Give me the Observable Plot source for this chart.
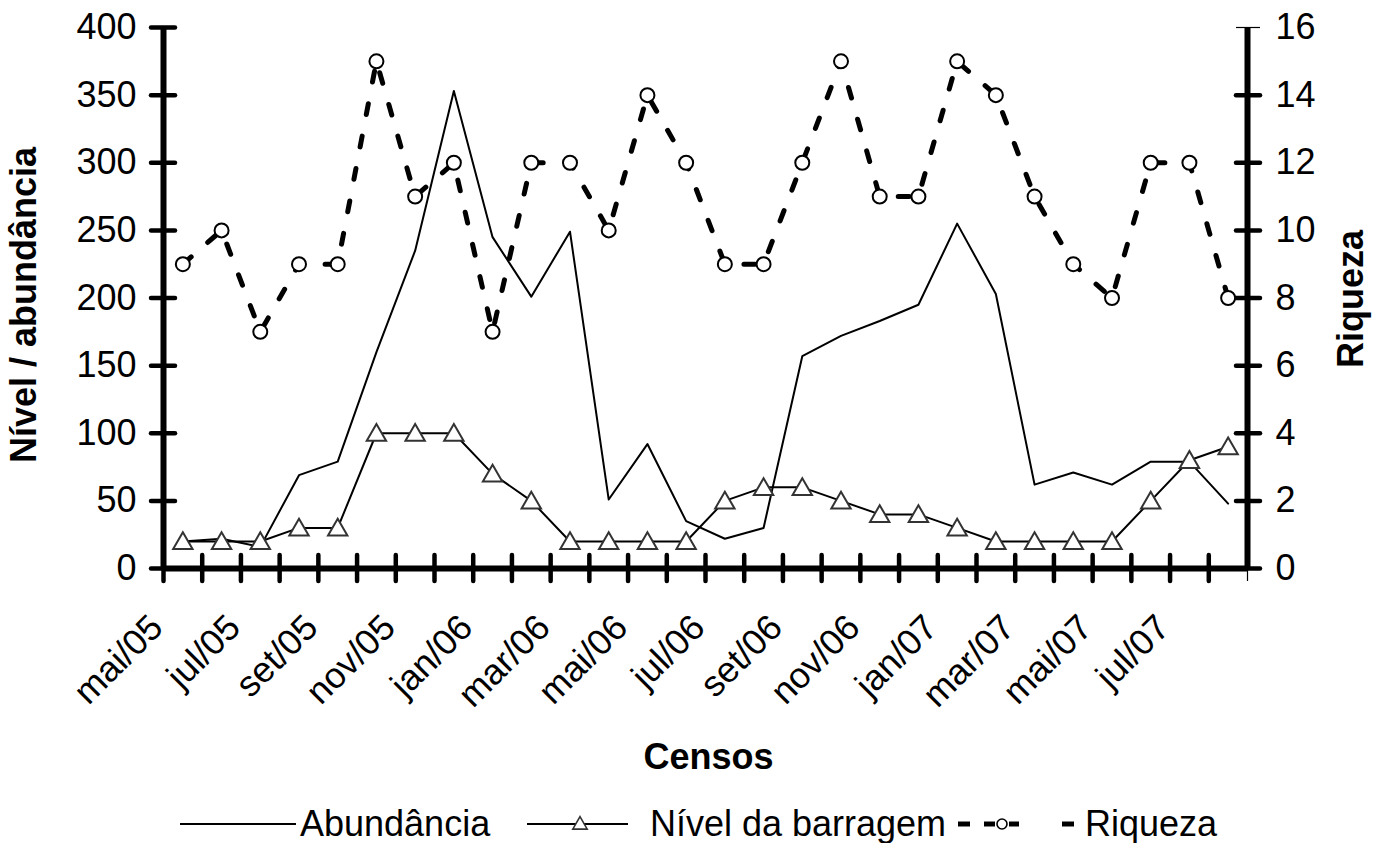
<!DOCTYPE html>
<html>
<head>
<meta charset="utf-8">
<script src="https://cdn.jsdelivr.net/npm/d3@7"></script>
<script src="https://cdn.jsdelivr.net/npm/@observablehq/plot@0.6"></script>
<style>
html, body { margin: 0; padding: 0; background: #fff; }
#chart svg, #legend svg { display: block; }
</style>
</head>
<body>
<div id="chart"></div>
<div id="legend"></div>
<script>
// ---- data ----
const months = ["mai/05","jun/05","jul/05","ago/05","set/05","out/05","nov/05","dez/05",
  "jan/06","fev/06","mar/06","abr/06","mai/06","jun/06","jul/06","ago/06","set/06","out/06",
  "nov/06","dez/06","jan/07","fev/07","mar/07","abr/07","mai/07","jun/07","jul/07","ago/07"];
const abundancia = [20,22,16,69,79,160,235,353,245,201,249,51,92,35,22,30,157,172,183,195,255,203,62,71,62,79,79,48];
const nivel = [20,20,20,30,30,100,100,100,70,50,20,20,20,20,50,60,60,50,40,40,30,20,20,20,20,50,80,90];
const riqueza = [9,10,7,9,9,15,11,12,7,12,12,10,14,12,9,9,12,15,11,11,15,14,11,9,8,12,12,8];
const leftTicks = [0,50,100,150,200,250,300,350,400];
const rightTicks = [0,2,4,6,8,10,12,14,16];
const xLabelIdx = [0,2,4,6,8,10,12,14,16,18,20,22,24,26];
const seriesNames = ["Abundância","Nível da barragem","Riqueza"];
const yTitle = "Nível / abundância", y2Title = "Riqueza", xTitle = "Censos";

const leftMax = 400, rightMax = 16;
const k = leftMax / rightMax; // right axis -> left scale
const data = months.map((m, i) => ({i, m, abund: abundancia[i], nivel: nivel[i], riq: riqueza[i]}));
const boundaries = d3.range(-0.5, months.length, 1);

const FONT = "'Liberation Sans', Arial, Helvetica, sans-serif";

const chart = Plot.plot({
  width: 1384,
  height: 800,
  marginLeft: 163,
  marginRight: 137,
  marginTop: 27,
  marginBottom: 232,
  style: {fontFamily: FONT, fontSize: "36px", background: "#fff", color: "#000", overflow: "visible"},
  x: {domain: [-0.5, months.length - 0.5]},
  y: {domain: [0, leftMax]},
  marks: [
    // category boundary ticks on x axis (crossing)
    Plot.axisX(boundaries.slice(0, -1), {tickSize: 26, dy: -13, fill: "none", stroke: "#000", strokeWidth: 4.5, strokeLinecap: "round", label: null}),
    Plot.axisX(boundaries.slice(-1), {tickSize: 13, fill: "none", stroke: "#000", strokeWidth: 1.2, label: null}),
    // left axis
    Plot.axisY(leftTicks, {anchor: "left", tickSize: 24, dx: 12, fill: "none", stroke: "#000", strokeWidth: 4.5, strokeLinecap: "round", label: null}),
    Plot.axisY(leftTicks, {anchor: "left", tickSize: 0, tickPadding: 27, fontSize: 36, label: null}),
    // right axis
    Plot.axisY(rightTicks.slice(0, -1).map(v => v * k), {anchor: "right", tickSize: 24, dx: -12, fill: "none", stroke: "#000", strokeWidth: 4.5, strokeLinecap: "round", label: null}),
    Plot.axisY([rightMax * k], {anchor: "right", tickSize: 24, dx: -12, fill: "none", stroke: "#000", strokeWidth: 1.2, label: null}),
    Plot.axisY(rightTicks.map(v => v * k), {anchor: "right", tickSize: 0, tickPadding: 28, tickFormat: d => d / k, fontSize: 36, label: null}),
    // axis lines
    Plot.ruleX([-0.5, months.length - 0.5], {stroke: "#000", strokeWidth: 6}),
    Plot.ruleY([0], {stroke: "#000", strokeWidth: 6}),
    // x tick labels
    Plot.text(xLabelIdx, {x: d => d, frameAnchor: "bottom", text: d => months[d], rotate: -45,
      textAnchor: "end", lineAnchor: "middle", dx: -26, dy: 53, fontSize: 36}),
    // titles
    Plot.text([yTitle], {frameAnchor: "left", textAnchor: "middle", dx: -139, dy: 7, rotate: -90, fontSize: 36, fontWeight: "bold"}),
    Plot.text([y2Title], {frameAnchor: "right", textAnchor: "middle", dx: 104, dy: 1, rotate: -90, fontSize: 36, fontWeight: "bold"}),
    Plot.text([xTitle], {frameAnchor: "bottom", dx: 3, dy: 200, fontSize: 36, fontWeight: "bold"}),
    // series
    Plot.line(data, {x: "i", y: "abund", stroke: "#000", strokeWidth: 2}),
    Plot.line(data, {x: "i", y: "nivel", stroke: "#000", strokeWidth: 2}),
    Plot.dot(data, {x: "i", y: "nivel", symbol: "triangle", r: 7.2, dy: 2, fill: "#fff", stroke: "#333", strokeWidth: 2}),
    Plot.line(data, {x: "i", y: d => d.riq * k, stroke: "#000", strokeWidth: 5, strokeDasharray: "11,22"}),
    Plot.dot(data, {x: "i", y: d => d.riq * k, r: 7, fill: "#fff", stroke: "#000", strokeWidth: 2})
  ]
});
document.getElementById("chart").appendChild(chart);

// ---- legend below the chart ----
const leg = d3.create("svg").attr("width", 1384).attr("height", 43)
  .style("font-family", FONT).style("font-size", "36px").style("background", "#fff");
const ly = 24, ty = 36;
leg.append("line").attr("x1", 180).attr("x2", 296).attr("y1", ly).attr("y2", ly).attr("stroke", "#000").attr("stroke-width", 2);
leg.append("text").attr("x", 300).attr("y", ty).text(seriesNames[0]);
leg.append("line").attr("x1", 527).attr("x2", 628).attr("y1", ly).attr("y2", ly).attr("stroke", "#000").attr("stroke-width", 2);
leg.append("path").attr("d", d3.symbol(d3.symbolTriangle, 90)()).attr("transform", `translate(580,${ly + 1})`)
  .attr("fill", "#fff").attr("stroke", "#333").attr("stroke-width", 1.6);
leg.append("text").attr("x", 650).attr("y", ty).attr("textLength", 296).attr("lengthAdjust", "spacingAndGlyphs").text(seriesNames[1]);
[[958,970],[984,995],[1009,1019],[1062,1074]].forEach(([a,b]) =>
  leg.append("line").attr("x1", a).attr("x2", b).attr("y1", ly).attr("y2", ly).attr("stroke", "#000").attr("stroke-width", 5));
leg.append("circle").attr("cx", 1002).attr("cy", ly).attr("r", 5).attr("fill", "#fff").attr("stroke", "#000").attr("stroke-width", 1.6);
leg.append("text").attr("x", 1085).attr("y", ty).text(seriesNames[2]);
document.getElementById("legend").appendChild(leg.node());
</script>
</body>
</html>
